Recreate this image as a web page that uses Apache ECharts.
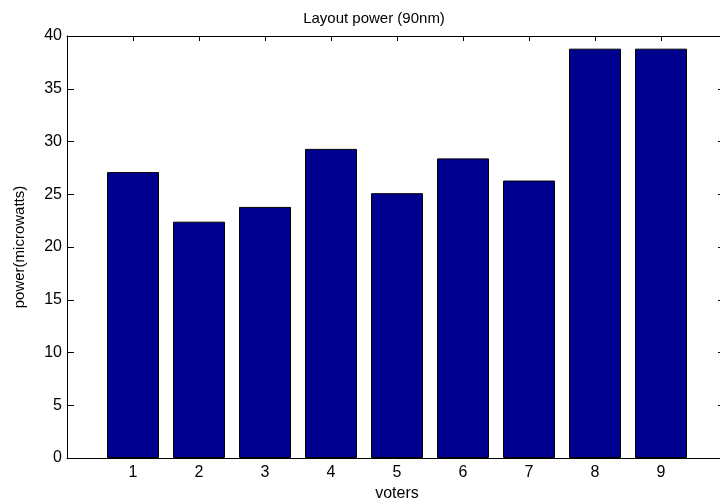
<!DOCTYPE html>
<html>
<head>
<meta charset="utf-8">
<title>Layout power (90nm)</title>
<script src="https://cdn.jsdelivr.net/npm/echarts@6/dist/echarts.min.js"></script>
<style>
  html, body { margin: 0; padding: 0; background: #fff; }
  #chart { width: 720px; height: 504px; }
</style>
</head>
<body>
<div id="chart"></div>
<script>
// Voter index and measured layout power (microwatts)
const voters = [1, 2, 3, 4, 5, 6, 7, 8, 9];
const power = [27.1, 22.4, 23.8, 29.3, 25.1, 28.4, 26.3, 38.8, 38.8];
const yTicks = [0, 5, 10, 15, 20, 25, 30, 35, 40];

const font = 'Liberation Sans, Arial, Helvetica, sans-serif';
const chart = echarts.init(document.getElementById('chart'), null, { renderer: 'canvas' });

const frameLine = { show: true, onZero: false, lineStyle: { color: '#000', width: 1 } };
const innerTick = (len) => ({ show: true, inside: true, length: len, lineStyle: { color: '#000', width: 1 } });

chart.setOption({
  animation: false,
  backgroundColor: '#fff',
  grid: { left: 67, top: 36, width: 660, height: 422, containLabel: false, outerBoundsMode: 'none' },
  graphic: [{
    type: 'text',
    x: 374, y: 19,
    style: {
      text: 'Layout power (90nm)',
      font: '15px ' + font,
      fill: '#000',
      textAlign: 'center',
      textVerticalAlign: 'middle'
    }
  }],
  xAxis: [{
    type: 'value',
    position: 'bottom',
    min: 0, max: 10, interval: 1,
    name: 'voters',
    nameLocation: 'middle',
    nameGap: 26,
    nameTextStyle: { color: '#000', fontSize: 16, fontFamily: font },
    axisLine: frameLine,
    axisTick: innerTick(5),
    axisLabel: {
      color: '#000', fontSize: 16, fontFamily: font, margin: 7,
      formatter: (v) => (voters.indexOf(v) >= 0 ? String(v) : '')
    },
    splitLine: { show: false }
  }, {
    type: 'value',
    position: 'top',
    min: 0, max: 10, interval: 1,
    axisLine: frameLine,
    axisTick: innerTick(5),
    axisLabel: { show: false },
    splitLine: { show: false }
  }],
  yAxis: [{
    type: 'value',
    position: 'left',
    min: 0, max: 40, interval: 5,
    name: 'power(microwatts)',
    nameLocation: 'middle',
    nameGap: 40,
    nameRotate: 90,
    nameTextStyle: { color: '#000', fontSize: 15, fontFamily: font },
    axisLine: frameLine,
    axisTick: innerTick(7),
    axisLabel: {
      color: '#000', fontSize: 16, fontFamily: font, margin: 5,
      formatter: (v) => (yTicks.indexOf(v) >= 0 ? String(v) : '')
    },
    splitLine: { show: false }
  }, {
    type: 'value',
    position: 'right',
    min: 0, max: 40, interval: 5,
    axisLine: frameLine,
    axisTick: innerTick(9),
    axisLabel: { show: false },
    splitLine: { show: false }
  }],
  series: [{
    type: 'bar',
    xAxisIndex: 0,
    yAxisIndex: 0,
    barWidth: 52,
    data: voters.map((v, i) => [v, power[i]]),
    itemStyle: { color: '#00008f', borderColor: '#000', borderWidth: 1 }
  }]
});
</script>
</body>
</html>
